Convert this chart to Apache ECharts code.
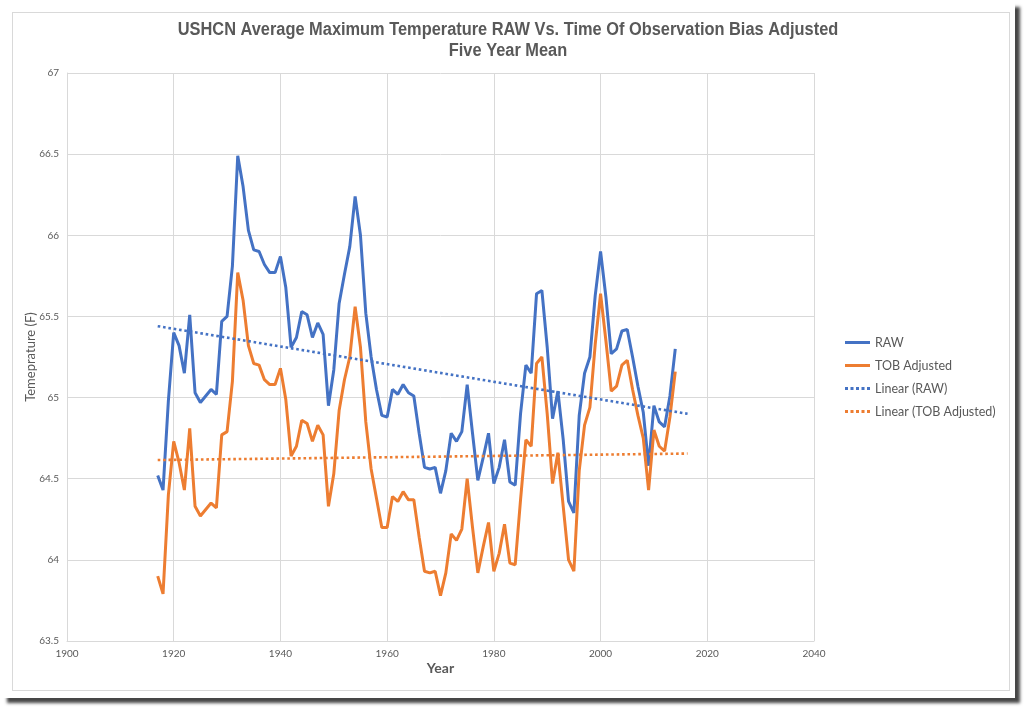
<!DOCTYPE html>
<html>
<head>
<meta charset="utf-8">
<script src="https://cdn.jsdelivr.net/npm/echarts@6/dist/echarts.min.js"></script>
<style>
    html, body { margin: 0; padding: 0; background: #fff; }
    /* card with drop shadow, like the pasted Excel picture */
    #card {
        position: absolute; left: 2px; top: 2px; width: 1013px; height: 696px;
        background: #fff; box-shadow: 5px 5px 3px rgba(0, 0, 0, 0.72);
    }
    #inner {
        position: absolute; left: 10px; top: 10px; width: 996px; height: 677px;
        border: 1px solid #d9d9d9;
    }
    #container { position: absolute; left: 0; top: 0; width: 1024px; height: 708px; }
</style>
</head>
<body>
<div id="card"><div id="inner"></div></div>
<div id="container"></div>
<script>
    // years 1917 - 2014
    let years = [
        1917, 1918, 1919, 1920, 1921, 1922, 1923, 1924, 1925, 1926,
        1927, 1928, 1929, 1930, 1931, 1932, 1933, 1934, 1935, 1936,
        1937, 1938, 1939, 1940, 1941, 1942, 1943, 1944, 1945, 1946,
        1947, 1948, 1949, 1950, 1951, 1952, 1953, 1954, 1955, 1956,
        1957, 1958, 1959, 1960, 1961, 1962, 1963, 1964, 1965, 1966,
        1967, 1968, 1969, 1970, 1971, 1972, 1973, 1974, 1975, 1976,
        1977, 1978, 1979, 1980, 1981, 1982, 1983, 1984, 1985, 1986,
        1987, 1988, 1989, 1990, 1991, 1992, 1993, 1994, 1995, 1996,
        1997, 1998, 1999, 2000, 2001, 2002, 2003, 2004, 2005, 2006,
        2007, 2008, 2009, 2010, 2011, 2012, 2013, 2014
    ];
    // RAW five year mean
    let rawValues = [
        64.52, 64.43, 64.98, 65.40, 65.32, 65.15, 65.51, 65.03, 64.97, 65.01,
        65.05, 65.02, 65.47, 65.50, 65.81, 66.49, 66.30, 66.03, 65.91, 65.90,
        65.82, 65.77, 65.77, 65.87, 65.68, 65.31, 65.37, 65.53, 65.51, 65.37,
        65.46, 65.39, 64.95, 65.17, 65.58, 65.76, 65.93, 66.24, 66.00, 65.52,
        65.25, 65.05, 64.89, 64.88, 65.05, 65.02, 65.08, 65.03, 65.01, 64.78,
        64.57, 64.56, 64.57, 64.41, 64.55, 64.78, 64.73, 64.79, 65.08, 64.78,
        64.49, 64.63, 64.78, 64.47, 64.57, 64.74, 64.48, 64.46, 64.90, 65.20,
        65.15, 65.64, 65.66, 65.31, 64.87, 65.04, 64.74, 64.36, 64.29, 64.89,
        65.15, 65.25, 65.63, 65.90, 65.62, 65.27, 65.30, 65.41, 65.42, 65.25,
        65.07, 64.91, 64.58, 64.95, 64.85, 64.82, 65.01, 65.30
    ];
    // TOB adjusted five year mean
    let tobValues = [
        63.90, 63.79, 64.40, 64.73, 64.60, 64.43, 64.81, 64.33, 64.27, 64.31,
        64.35, 64.32, 64.77, 64.79, 65.10, 65.77, 65.60, 65.32, 65.21, 65.20,
        65.11, 65.08, 65.08, 65.18, 64.99, 64.64, 64.70, 64.86, 64.84, 64.73,
        64.83, 64.77, 64.33, 64.53, 64.92, 65.11, 65.25, 65.56, 65.31, 64.85,
        64.56, 64.38, 64.20, 64.20, 64.39, 64.36, 64.42, 64.37, 64.37, 64.14,
        63.93, 63.92, 63.93, 63.78, 63.92, 64.16, 64.12, 64.19, 64.50, 64.20,
        63.92, 64.08, 64.23, 63.93, 64.04, 64.22, 63.98, 63.97, 64.37, 64.74,
        64.70, 65.21, 65.25, 64.90, 64.47, 64.66, 64.33, 64.00, 63.93, 64.55,
        64.83, 64.94, 65.33, 65.64, 65.35, 65.04, 65.07, 65.20, 65.23, 65.05,
        64.89, 64.75, 64.43, 64.80, 64.70, 64.67, 64.88, 65.16
    ];
    // linear trend end points
    let trendYears = [1917, 2016.3];
    let rawTrend = [65.44, 64.90];
    let tobTrend = [64.615, 64.655];

    let legendData = ['RAW', 'TOB Adjusted', 'Linear (RAW)', 'Linear (TOB Adjusted)'];
    let titleLines = [
        'USHCN Average Maximum Temperature RAW Vs. Time Of Observation Bias Adjusted',
        'Five Year Mean'
    ];
    let textColor = '#595959';
    let baseFont = 'Lato, "Liberation Sans", sans-serif';
    let blue = '#4472c4';
    let orange = '#ed7d31';

    // legend icons: solid bar / row of square dots
    let solidIcon = 'path://M0,0h25v3h-25z';
    let dotIcon = 'path://M0,0h3v3h-3zM5.5,0h3v3h-3zM11,0h3v3h-3zM16.5,0h3v3h-3zM22,0h3v3h-3z';

    function pairs(xs, ys) {
        return xs.map(function(x, i) { return [x, ys[i]]; });
    }

    // condensed bold title, squeezed horizontally
    function titleText(str, y) {
        return {
            type: 'text',
            x: 508,
            y: y,
            scaleX: 0.91,
            silent: true,
            style: {
                text: str,
                fill: textColor,
                font: 'bold 18px "Liberation Sans", Arial, sans-serif',
                textAlign: 'center',
                textVerticalAlign: 'middle'
            }
        };
    }

    let myChart = echarts.init(document.getElementById('container'), null, { renderer: 'canvas' });
    let option = {
        backgroundColor: 'transparent',
        animation: false,
        graphic: [titleText(titleLines[0], 30), titleText(titleLines[1], 51)],
        legend: {
            data: [
                { name: legendData[0], icon: solidIcon, itemStyle: { color: blue } },
                { name: legendData[1], icon: solidIcon, itemStyle: { color: orange } },
                { name: legendData[2], icon: dotIcon, itemStyle: { color: blue } },
                { name: legendData[3], icon: dotIcon, itemStyle: { color: orange } }
            ],
            orient: 'vertical',
            left: 840,
            top: 331,
            itemWidth: 25,
            itemHeight: 3,
            itemGap: 10,
            textStyle: { fontFamily: baseFont, fontSize: 12.5, color: textColor }
        },
        grid: { left: 67, right: 210, top: 73, bottom: 67 },
        xAxis: {
            type: 'value',
            min: 1900,
            max: 2040,
            interval: 20,
            name: 'Year',
            nameLocation: 'middle',
            nameGap: 20,
            nameMoveOverlap: false,
            nameTextStyle: { fontFamily: baseFont, fontSize: 14, fontWeight: 'bold', color: textColor },
            axisLine: { show: true, lineStyle: { color: '#d9d9d9', width: 1 } },
            axisTick: { show: false },
            axisLabel: {
                fontFamily: baseFont, fontSize: 10, color: textColor, margin: 8,
                formatter: function(value) { return String(value); }
            },
            splitLine: { show: true, lineStyle: { color: '#d9d9d9', width: 1 } }
        },
        yAxis: {
            type: 'value',
            min: 63.5,
            max: 67,
            interval: 0.5,
            name: 'Temeprature (F)',
            nameLocation: 'middle',
            nameGap: 30,
            nameMoveOverlap: false,
            nameTextStyle: { fontFamily: baseFont, fontSize: 13, color: textColor },
            axisLine: { show: true, lineStyle: { color: '#d9d9d9', width: 1 } },
            axisTick: { show: false },
            axisLabel: { fontFamily: baseFont, fontSize: 10, color: textColor, margin: 8 },
            splitLine: { show: true, lineStyle: { color: '#d9d9d9', width: 1 } }
        },
        series: [{
            name: legendData[0],
            type: 'line',
            symbol: 'none',
            data: pairs(years, rawValues),
            lineStyle: { color: blue, width: 3 },
            itemStyle: { color: blue }
        }, {
            name: legendData[1],
            type: 'line',
            symbol: 'none',
            data: pairs(years, tobValues),
            lineStyle: { color: orange, width: 3 },
            itemStyle: { color: orange }
        }, {
            name: legendData[2],
            type: 'line',
            symbol: 'none',
            data: pairs(trendYears, rawTrend),
            lineStyle: { color: blue, width: 2.6, type: [2.6, 2.8], cap: 'butt' },
            itemStyle: { color: blue }
        }, {
            name: legendData[3],
            type: 'line',
            symbol: 'none',
            data: pairs(trendYears, tobTrend),
            lineStyle: { color: orange, width: 2.6, type: [2.6, 2.8], cap: 'butt' },
            itemStyle: { color: orange }
        }]
    };
    myChart.setOption(option, true);
</script>
</body>
</html>
